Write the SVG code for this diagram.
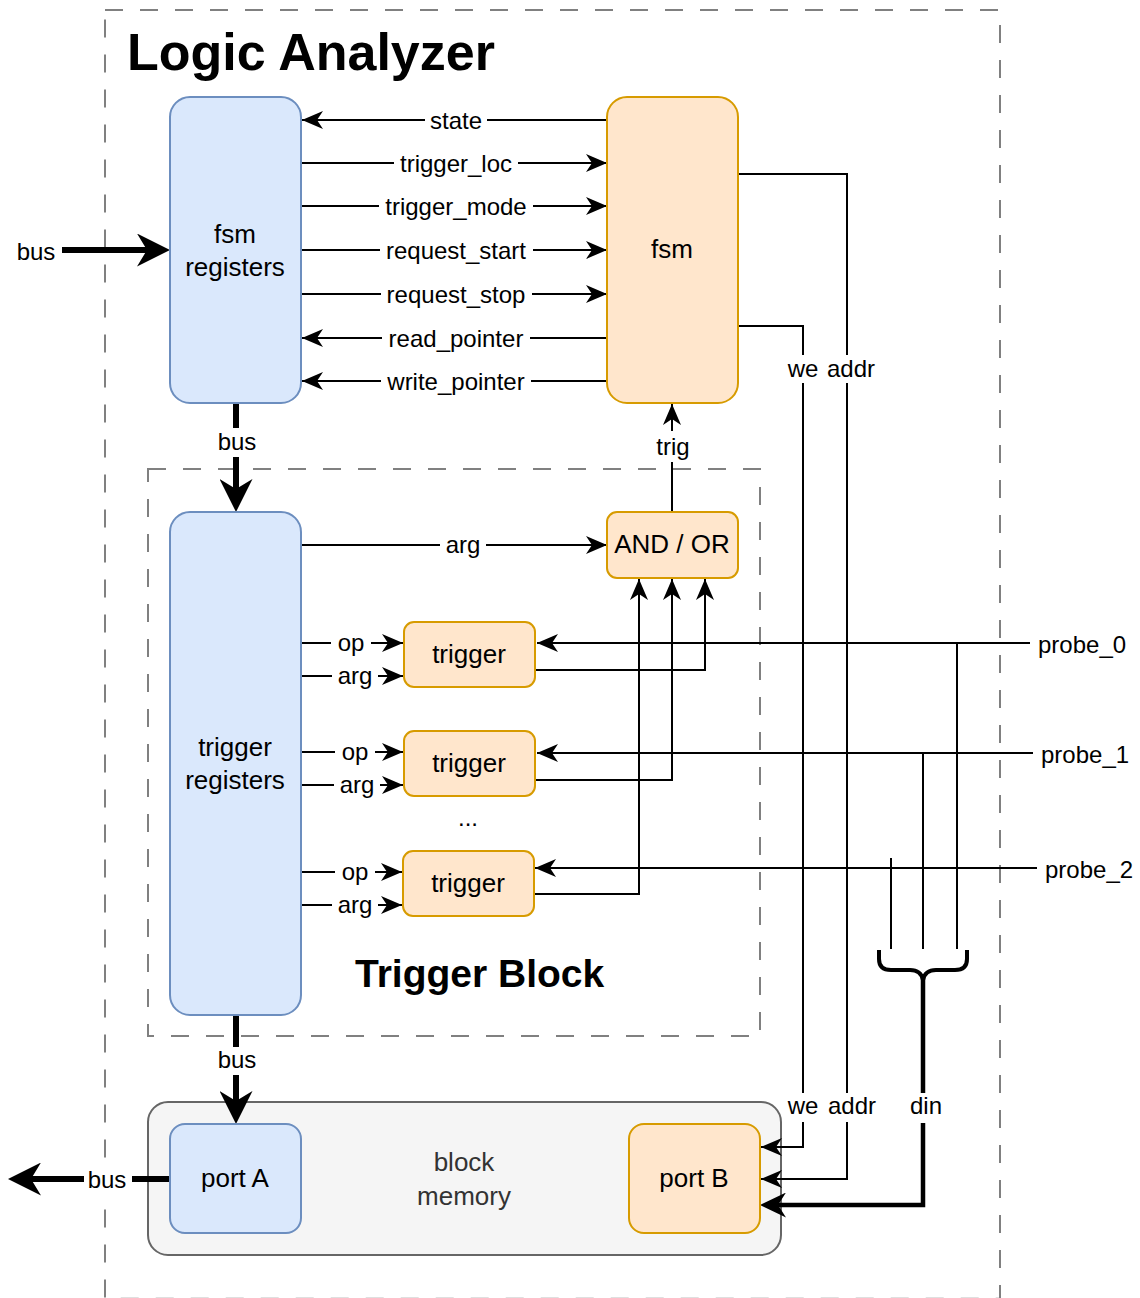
<svg xmlns="http://www.w3.org/2000/svg" width="1140" height="1298" viewBox="0 0 1140 1298">
<style>
text{font-family:"Liberation Sans",Arial,Helvetica,sans-serif;fill:#000}
.e{font-size:24px;text-anchor:middle}
.n{font-size:26px;text-anchor:middle}
.blue{fill:#dae8fc;stroke:#6c8ebf;stroke-width:2}
.orange{fill:#ffe6cc;stroke:#d79b00;stroke-width:2}
.dash{fill:none;stroke:#808080;stroke-width:2;stroke-dasharray:18 17}
.w{fill:none;stroke:#000;stroke-width:2}
.bus{fill:none;stroke:#000;stroke-width:6}
.bg{fill:#fff}
</style>
<defs>
<marker id="arr" markerUnits="userSpaceOnUse" markerWidth="21" markerHeight="18" viewBox="0 0 21 18" refX="21" refY="9" orient="auto"><path d="M0,0 L21,9 L0,18 L6,9 Z" fill="#000"/></marker>
<marker id="big" markerUnits="userSpaceOnUse" markerWidth="33" markerHeight="33" viewBox="0 0 33 33" refX="10" refY="16.5" orient="auto"><path d="M0,0 L33,16.5 L0,33 L10,16.5 Z" fill="#000"/></marker>
<marker id="mid" markerUnits="userSpaceOnUse" markerWidth="26" markerHeight="25" viewBox="0 0 26 25" refX="8" refY="12.5" orient="auto"><path d="M0,0 L26,12.5 L0,25 L8,12.5 Z" fill="#000"/></marker>
</defs>

<g id="containers">
<rect id="logic-analyzer" x="105" y="10" width="895" height="1288.7" class="dash"/>
<text x="127" y="70" style="font-size:52px;font-weight:bold">Logic Analyzer</text>
<rect id="trigger-block" x="148" y="469" width="612" height="567" class="dash"/>
<text x="355" y="987" style="font-size:39px;font-weight:bold">Trigger Block</text>
<g id="block-memory">
<rect x="148" y="1102" width="633" height="153" rx="20" fill="#f5f5f5" stroke="#666666" stroke-width="2"/>
<text x="464" y="1171" class="n" style="fill:#333">block</text>
<text x="464" y="1205" class="n" style="fill:#333">memory</text>
</g>
</g>

<g id="connectors">
<line x1="607" y1="120" x2="302" y2="120" class="w" marker-end="url(#arr)"/>
<line x1="301" y1="163" x2="607" y2="163" class="w" marker-end="url(#arr)"/>
<line x1="301" y1="206" x2="607" y2="206" class="w" marker-end="url(#arr)"/>
<line x1="301" y1="250" x2="607" y2="250" class="w" marker-end="url(#arr)"/>
<line x1="301" y1="294" x2="607" y2="294" class="w" marker-end="url(#arr)"/>
<line x1="607" y1="338" x2="302" y2="338" class="w" marker-end="url(#arr)"/>
<line x1="607" y1="381" x2="302" y2="381" class="w" marker-end="url(#arr)"/>
<line x1="62" y1="250" x2="147" y2="250" class="bus" marker-end="url(#big)"/>
<line x1="236" y1="403" x2="236" y2="489" class="bus" marker-end="url(#big)"/>
<line x1="236" y1="1015" x2="236" y2="1101" class="bus" marker-end="url(#big)"/>
<line x1="170" y1="1179" x2="31" y2="1179" class="bus" marker-end="url(#big)"/>
<line x1="672" y1="512" x2="672" y2="404" class="w" marker-end="url(#arr)"/>
<line x1="301" y1="545" x2="607" y2="545" class="w" marker-end="url(#arr)"/>
<line x1="301" y1="643" x2="403" y2="643" class="w" marker-end="url(#arr)"/>
<line x1="301" y1="676" x2="403" y2="676" class="w" marker-end="url(#arr)"/>
<line x1="301" y1="752" x2="403" y2="752" class="w" marker-end="url(#arr)"/>
<line x1="301" y1="785" x2="403" y2="785" class="w" marker-end="url(#arr)"/>
<line x1="301" y1="872" x2="402" y2="872" class="w" marker-end="url(#arr)"/>
<line x1="301" y1="905" x2="402" y2="905" class="w" marker-end="url(#arr)"/>
<path d="M536,670 H705 V579" class="w" marker-end="url(#arr)"/>
<path d="M536,780 H672 V579" class="w" marker-end="url(#arr)"/>
<path d="M534,894 H639 V579" class="w" marker-end="url(#arr)"/>
<path d="M738,326 H803 V1147 H761" class="w" marker-end="url(#arr)"/>
<path d="M738,174 H847 V1179 H761" class="w" marker-end="url(#arr)"/>
<line x1="1030" y1="643" x2="537" y2="643" class="w" marker-end="url(#arr)"/>
<line x1="1033" y1="753" x2="537" y2="753" class="w" marker-end="url(#arr)"/>
<line x1="1037" y1="868" x2="535" y2="868" class="w" marker-end="url(#arr)"/>
<line x1="957" y1="643" x2="957" y2="949" class="w"/>
<line x1="923" y1="753" x2="923" y2="949" class="w"/>
<line x1="891" y1="858" x2="891" y2="949" class="w"/>
<path d="M879,950 L879,959 Q879,970 891,970 L910,970 Q921,970 923,980 Q925,970 936,970 L955,970 Q967,970 967,959 L967,950" fill="none" stroke="#000" stroke-width="4"/>
<path d="M923,976 V1205 H778" fill="none" stroke="#000" stroke-width="4.5" marker-end="url(#mid)"/>
</g>

<g id="nodes">
<g id="fsm-registers">
<rect x="170" y="97" width="131" height="306" rx="20" class="blue"/>
<text x="235" y="243" class="n">fsm</text>
<text x="235" y="276" class="n">registers</text>
</g>
<g id="fsm">
<rect x="607" y="97" width="131" height="306" rx="20" class="orange"/>
<text x="672" y="258" class="n">fsm</text>
</g>
<g id="trigger-registers">
<rect x="170" y="512" width="131" height="503" rx="20" class="blue"/>
<text x="235" y="756" class="n">trigger</text>
<text x="235" y="789" class="n">registers</text>
</g>
<g id="and-or">
<rect x="607" y="512" width="131" height="66" rx="10" class="orange"/>
<text x="672" y="553" class="n">AND / OR</text>
</g>
<g id="trigger-0">
<rect x="404" y="622" width="131" height="65" rx="10" class="orange"/>
<text x="469" y="663" class="n">trigger</text>
</g>
<g id="trigger-1">
<rect x="404" y="731" width="131" height="65" rx="10" class="orange"/>
<text x="469" y="772" class="n">trigger</text>
</g>
<g id="trigger-n">
<rect x="403" y="851" width="131" height="65" rx="10" class="orange"/>
<text x="468" y="892" class="n">trigger</text>
</g>
<text x="468" y="826" class="e">...</text>
<g id="port-a">
<rect x="170" y="1124" width="131" height="109" rx="15" class="blue"/>
<text x="235" y="1187" class="n">port A</text>
</g>
<g id="port-b">
<rect x="629" y="1124" width="131" height="109" rx="15" class="orange"/>
<text x="694" y="1187" class="n">port B</text>
</g>
</g>

<g id="labels">
<rect x="425" y="107" width="62" height="26" class="bg"/><text x="456" y="129" class="e">state</text>
<rect x="394" y="150" width="124" height="26" class="bg"/><text x="456" y="172" class="e">trigger_loc</text>
<rect x="379" y="193" width="154" height="26" class="bg"/><text x="456" y="215" class="e">trigger_mode</text>
<rect x="380" y="237" width="153" height="26" class="bg"/><text x="456" y="259" class="e">request_start</text>
<rect x="381" y="281" width="151" height="26" class="bg"/><text x="456" y="303" class="e">request_stop</text>
<rect x="382" y="325" width="148" height="26" class="bg"/><text x="456" y="347" class="e">read_pointer</text>
<rect x="381" y="368" width="150" height="26" class="bg"/><text x="456" y="390" class="e">write_pointer</text>
<text x="36" y="260" class="e">bus</text>
<rect x="215" y="428" width="44" height="29" class="bg"/><text x="237" y="450" class="e">bus</text>
<rect x="654" y="431" width="38" height="31" class="bg"/><text x="673" y="455" class="e">trig</text>
<rect x="440" y="532" width="46" height="26" class="bg"/><text x="463" y="553" class="e">arg</text>
<rect x="331" y="630" width="40" height="26" class="bg"/><text x="351" y="651" class="e">op</text>
<rect x="332" y="663" width="46" height="26" class="bg"/><text x="355" y="684" class="e">arg</text>
<rect x="335" y="739" width="40" height="26" class="bg"/><text x="355" y="760" class="e">op</text>
<rect x="334" y="772" width="46" height="26" class="bg"/><text x="357" y="793" class="e">arg</text>
<rect x="335" y="859" width="40" height="26" class="bg"/><text x="355" y="880" class="e">op</text>
<rect x="332" y="892" width="46" height="26" class="bg"/><text x="355" y="913" class="e">arg</text>
<rect x="783" y="355" width="40" height="28" class="bg"/><text x="803" y="377" class="e">we</text>
<rect x="823" y="355" width="54" height="28" class="bg"/><text x="851" y="377" class="e">addr</text>
<rect x="783" y="1093" width="40" height="29" class="bg"/><text x="803" y="1114" class="e">we</text>
<rect x="825" y="1093" width="54" height="29" class="bg"/><text x="852" y="1114" class="e">addr</text>
<rect x="905" y="1093" width="42" height="30" class="bg"/><text x="926" y="1114" class="e">din</text>
<rect x="215" y="1047" width="44" height="28" class="bg"/><text x="237" y="1068" class="e">bus</text>
<rect x="84" y="1166" width="48" height="27" class="bg"/><text x="107" y="1188" class="e">bus</text>
<text x="1038" y="653" style="font-size:24px">probe_0</text>
<text x="1041" y="763" style="font-size:24px">probe_1</text>
<text x="1045" y="878" style="font-size:24px">probe_2</text>
</g>
</svg>
